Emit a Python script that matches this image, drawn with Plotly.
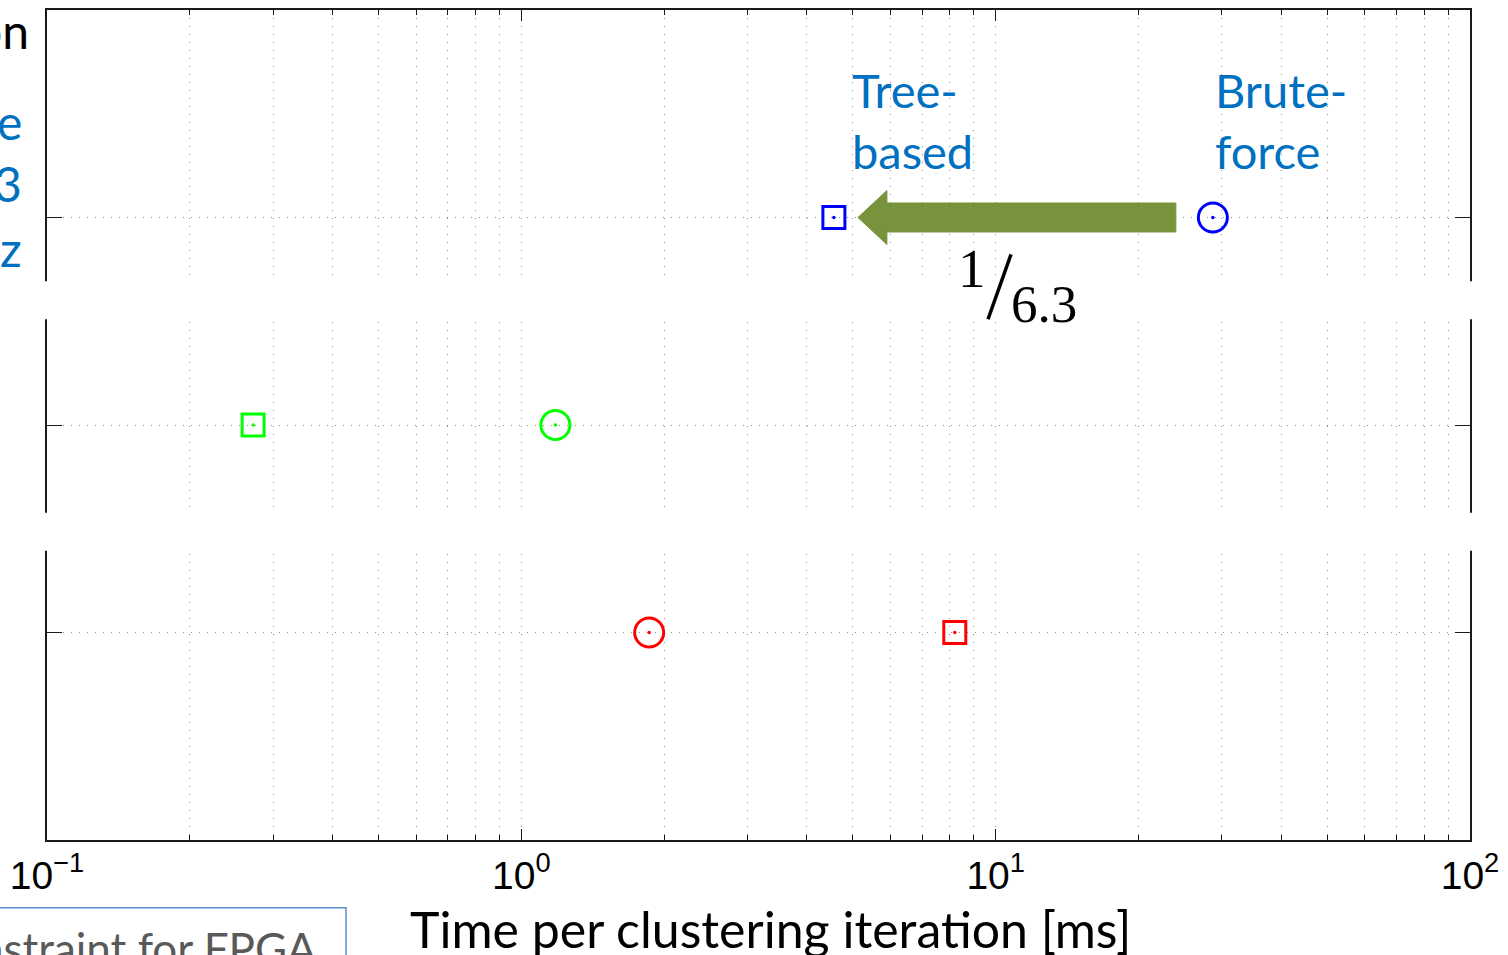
import math
import plotly.graph_objects as go

# Rows on the vertical axis (1 = bottom, 3 = top); one colour per row
rows = [1, 2, 3]
row_colors = ["#FF0000", "#00FF00", "#0000FF"]

# Time per clustering iteration [ms]
brute_force_ms = [1.86, 1.18, 28.7]
tree_based_ms = [8.2, 0.272, 4.56]

# Log-axis ticks
x_tick_vals = [0.1, 1, 10, 100]
x_tick_text = ["10<sup>\u22121</sup>", "10<sup>0</sup>", "10<sup>1</sup>", "10<sup>2</sup>"]
x_minor_vals = [m * 10.0 ** e for e in (-1, 0, 1) for m in range(2, 10)]

# Canvas geometry
W, H = 1508, 955
L, R, T, B = 47, 38, 8, 115
PW, PH = W - L - R, H - T - B
DEC = PW / 3.0          # pixels per decade on the x axis
YU = PH / 4.0           # pixels per row unit on the y axis


def px(x):
    """Horizontal pixel -> paper coordinate."""
    return (x - L) / PW


def py(y):
    """Vertical pixel (from top) -> paper coordinate."""
    return (H - B - y) / PH


GRID = "#8f8f8f"
DOTS = "1px,7px"
AXIS = "#1a1a1a"

fig = go.Figure()

# Speed-up arrow from the brute-force point to the tree-based point (top row)
k = 2
yc = rows[k]
tip = math.log10(tree_based_ms[k]) + 24 / DEC
back = tip + 29 / DEC
tail = math.log10(brute_force_ms[k]) - 37 / DEC
shaft, head = 14.5 / YU, 27 / YU
ax_log = [tip, back, back, tail, tail, back, back, tip]
arrow_x = [10 ** v for v in ax_log]
arrow_y = [yc, yc + head, yc + shaft, yc + shaft, yc - shaft, yc - shaft, yc - head, yc]
fig.add_trace(go.Scatter(
    x=arrow_x, y=arrow_y, mode="lines", fill="toself",
    fillcolor="#77933C", line=dict(color="#77933C", width=1),
    hoverinfo="skip", showlegend=False,
))

fig.add_trace(go.Scatter(
    x=brute_force_ms, y=rows, mode="markers", name="Brute-force",
    marker=dict(symbol="circle-open", size=29, color=row_colors,
                line=dict(width=3, color=row_colors)),
))
fig.add_trace(go.Scatter(
    x=tree_based_ms, y=rows, mode="markers", name="Tree-based",
    marker=dict(symbol="square-open", size=22, color=row_colors,
                line=dict(width=3, color=row_colors)),
))
# centre dots of both marker types
fig.add_trace(go.Scatter(
    x=brute_force_ms + tree_based_ms, y=rows + rows, mode="markers",
    marker=dict(symbol="circle", size=3.5, color=row_colors + row_colors),
    hoverinfo="skip", showlegend=False,
))

speedup = brute_force_ms[k] / tree_based_ms[k]

annotations = [
    dict(text="Tree-<br>based", x=px(850), y=py(119), xanchor="left", yanchor="middle",
         align="left", font=dict(family="Lato", size=47, color="#0070C0")),
    dict(text="Brute-<br>force", x=px(1213), y=py(119), xanchor="left", yanchor="middle",
         align="left", font=dict(family="Lato", size=47, color="#0070C0")),
    dict(text="1", x=px(972), y=py(267), xanchor="center", yanchor="middle",
         font=dict(family="Liberation Serif", size=55, color="black")),
    dict(text=f"{speedup:.1f}", x=px(1044), y=py(303), xanchor="center", yanchor="middle",
         font=dict(family="Liberation Serif", size=53, color="black")),
    dict(text="on", x=px(31), y=py(29), xanchor="right", yanchor="middle",
         font=dict(family="Lato", size=48, color="black")),
    dict(text="e", x=px(24), y=py(120), xanchor="right", yanchor="middle",
         font=dict(family="Lato", size=48, color="#0070C0")),
    dict(text="3", x=px(24), y=py(182), xanchor="right", yanchor="middle",
         font=dict(family="Lato", size=48, color="#0070C0")),
    dict(text="z", x=px(24), y=py(247), xanchor="right", yanchor="middle",
         font=dict(family="Lato", size=48, color="#0070C0")),
    dict(text="Constraint for FPGA", x=px(319), y=py(948), xanchor="right", yanchor="middle",
         font=dict(family="Lato", size=44, color="#595959")),
    dict(text="Time per clustering iteration [ms]", x=px(770), y=py(929),
         xanchor="center", yanchor="middle",
         font=dict(family="Lato", size=50, color="black")),
]
for a in annotations:
    a.update(xref="paper", yref="paper", showarrow=False)

shapes = [
    # white bands that interrupt the frame and grid
    dict(type="rect", xref="paper", yref="paper", x0=px(-5), x1=px(W + 5),
         y0=py(318), y1=py(280), fillcolor="white", line=dict(width=0), layer="above"),
    dict(type="rect", xref="paper", yref="paper", x0=px(-5), x1=px(W + 5),
         y0=py(550), y1=py(512), fillcolor="white", line=dict(width=0), layer="above"),
    # fraction slash
    dict(type="line", xref="paper", yref="paper", x0=px(988), y0=py(318),
         x1=px(1011), y1=py(253), line=dict(color="black", width=3.5), layer="above"),
    # outlined box at the lower left
    dict(type="rect", xref="paper", yref="paper", x0=px(-5), x1=px(346),
         y0=py(975), y1=py(908), fillcolor="rgba(0,0,0,0)",
         line=dict(color="#5B8FD0", width=1.5), layer="above"),
]

fig.update_layout(
    width=W, height=H,
    margin=dict(l=L, r=R, t=T, b=B, pad=0),
    paper_bgcolor="white", plot_bgcolor="white",
    showlegend=False,
    annotations=annotations,
    shapes=shapes,
    xaxis=dict(
        type="log", range=[-1, 2],
        tickmode="array", tickvals=x_tick_vals, ticktext=x_tick_text,
        ticks="inside", ticklen=11, tickwidth=1.2, tickcolor=AXIS,
        showline=True, linecolor=AXIS, linewidth=1.8, mirror="ticks",
        showgrid=True, gridcolor=GRID, gridwidth=1, griddash=DOTS,
        zeroline=False,
        tickfont=dict(family="Liberation Sans", size=39, color="black"),
        minor=dict(tickmode="array", tickvals=x_minor_vals, ticks="inside",
                   ticklen=5, tickwidth=1.2, tickcolor=AXIS,
                   showgrid=True, gridcolor=GRID, gridwidth=1, griddash=DOTS),
    ),
    yaxis=dict(
        range=[0, 4], tickmode="array", tickvals=rows, showticklabels=False,
        ticks="inside", ticklen=15, tickwidth=1.2, tickcolor=AXIS,
        showline=True, linecolor=AXIS, linewidth=1.8, mirror="ticks",
        showgrid=True, gridcolor=GRID, gridwidth=1, griddash=DOTS,
        zeroline=False,
    ),
)

fig.write_html("out.html")
